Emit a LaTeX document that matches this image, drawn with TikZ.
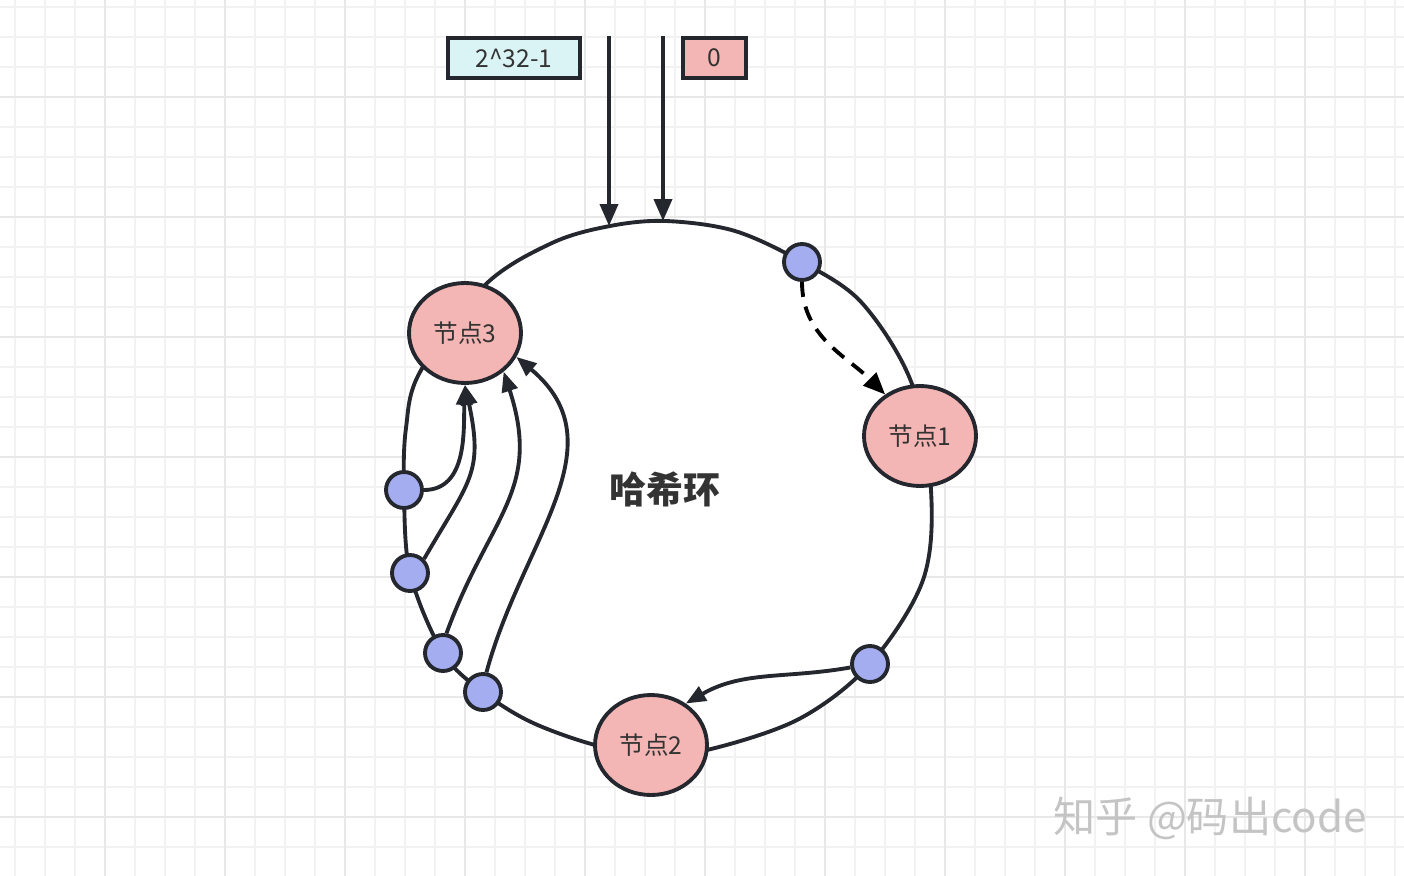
\documentclass[tikz,border=0pt]{standalone}
\usepackage{fontspec}
\setmainfont{Noto Sans CJK SC}
\usetikzlibrary{shapes.geometric,arrows.meta}

\definecolor{ringline}{HTML}{25272E}
\definecolor{textgray}{HTML}{333333}
\definecolor{nodepink}{HTML}{F4B6B4}
\definecolor{keyblue}{HTML}{A3ADEF}
\definecolor{boxcyan}{HTML}{DAF4F6}
\definecolor{gridminor}{HTML}{F2F2F2}
\definecolor{gridmajor}{HTML}{E8E8E8}
\definecolor{markgray}{HTML}{C4C4C4}

\begin{document}
\begin{tikzpicture}[x=0.02cm, y=-0.02cm,
    server/.style={ellipse, draw=ringline, fill=nodepink, line width=2.2pt, minimum width=2.24cm, minimum height=2.0cm, inner sep=0pt, text=textgray, font=\fontsize{14}{16}\selectfont},
    key/.style={circle, draw=ringline, fill=keyblue, line width=2.2pt, minimum size=0.72cm, inner sep=0pt},
    valuebox/.style={rectangle, draw=ringline, line width=2.2pt, minimum height=0.8cm, inner sep=0pt, text=textgray, font=\fontsize{14}{16}\selectfont},
    ptr/.style={-{Triangle[length=0.44cm,width=0.36cm]}, ringline, line width=2.2pt},
    hop/.style={-{Triangle[length=0.4cm,width=0.32cm]}, ringline, line width=2.2pt},
    remap/.style={-{Triangle[length=0.44cm,width=0.36cm]}, black, line width=2.2pt, dash pattern=on 0.3cm off 0.2cm}]
        \useasboundingbox (0,0) rectangle (1404,876);

        % Grid
        \foreach \x in {15,45,...,1395} \draw[gridminor, line width=0.8pt] (\x,0) -- (\x,876);
        \foreach \y in {7,37,...,876} \draw[gridminor, line width=0.8pt] (0,\y) -- (1404,\y);
        \foreach \x in {105,225,...,1395} \draw[gridmajor, line width=0.8pt] (\x,0) -- (\x,876);
        \foreach \y in {97,217,...,876} \draw[gridmajor, line width=0.8pt] (0,\y) -- (1404,\y);

        % Ring
        \coordinate (zero hit) at (663,221);
        \coordinate (max hit) at (609,226);
        \draw[ringline, line width=2.2pt, fill=white] plot[smooth cycle, tension=0.55] coordinates {
            (666,221) (735,231) (802,262) (862,303) (912,384) (931,490) (923,580)
            (870,664) (799,719) (707,750) (652,754) (595,745) (531,722) (483,692)
            (443,653) (410,573) (404,490) (406,428) (420,372) (485,285) (552,243) (610,226)};
        \node (ringname) at (665,489) {\fontsize{21}{24}\selectfont\bfseries\color{textgray}哈希环};

        % Nodes
        \node (n3) [server] at (465,333) {节点3};
        \node (n1) [server] at (920,436) {节点1};
        \node (n2) [server] at (651,745) {节点2};
        \node (k1) [key] at (802,262) {};
        \node (k2) [key] at (404,490) {};
        \node (k3) [key] at (410,573) {};
        \node (k4) [key] at (443,653) {};
        \node (k5) [key] at (483,692) {};
        \node (k6) [key] at (870,664) {};
        \node (maxval) [valuebox, fill=boxcyan, minimum width=2.64cm] at (514,58) {2\^{}32-1};
        \node (zeroval) [valuebox, fill=nodepink, minimum width=1.26cm] at (714.5,58) {0};
        \coordinate (max top) at (609,36);
        \coordinate (zero top) at (663,36);

        % Arrows
        \draw[ptr] (max top) -- (max hit);
        \draw[ptr] (zero top) -- (zero hit);
        \draw[remap] (k1.south) to[out=-90, in=135] (n1.130);
        \draw[hop] (k6.190) to[out=190, in=30] (n2.50);
        \draw[hop] (k2.east) to[out=0, in=-92] (n3.south);
        \draw[hop] (k3.45) to[out=60, in=-78, looseness=1.3] (n3.south);
        \draw[hop] (k4.80) to[out=70, in=-72, looseness=1.2] (n3.-45);
        \draw[hop] (k5.80) to[out=75, in=-40, looseness=1.1] (n3.-25);

        % Watermark
        \node (watermark) at (1210,818) {\fontsize{24}{28}\selectfont\color{markgray}知乎 @码出code};
\end{tikzpicture}
\end{document}
